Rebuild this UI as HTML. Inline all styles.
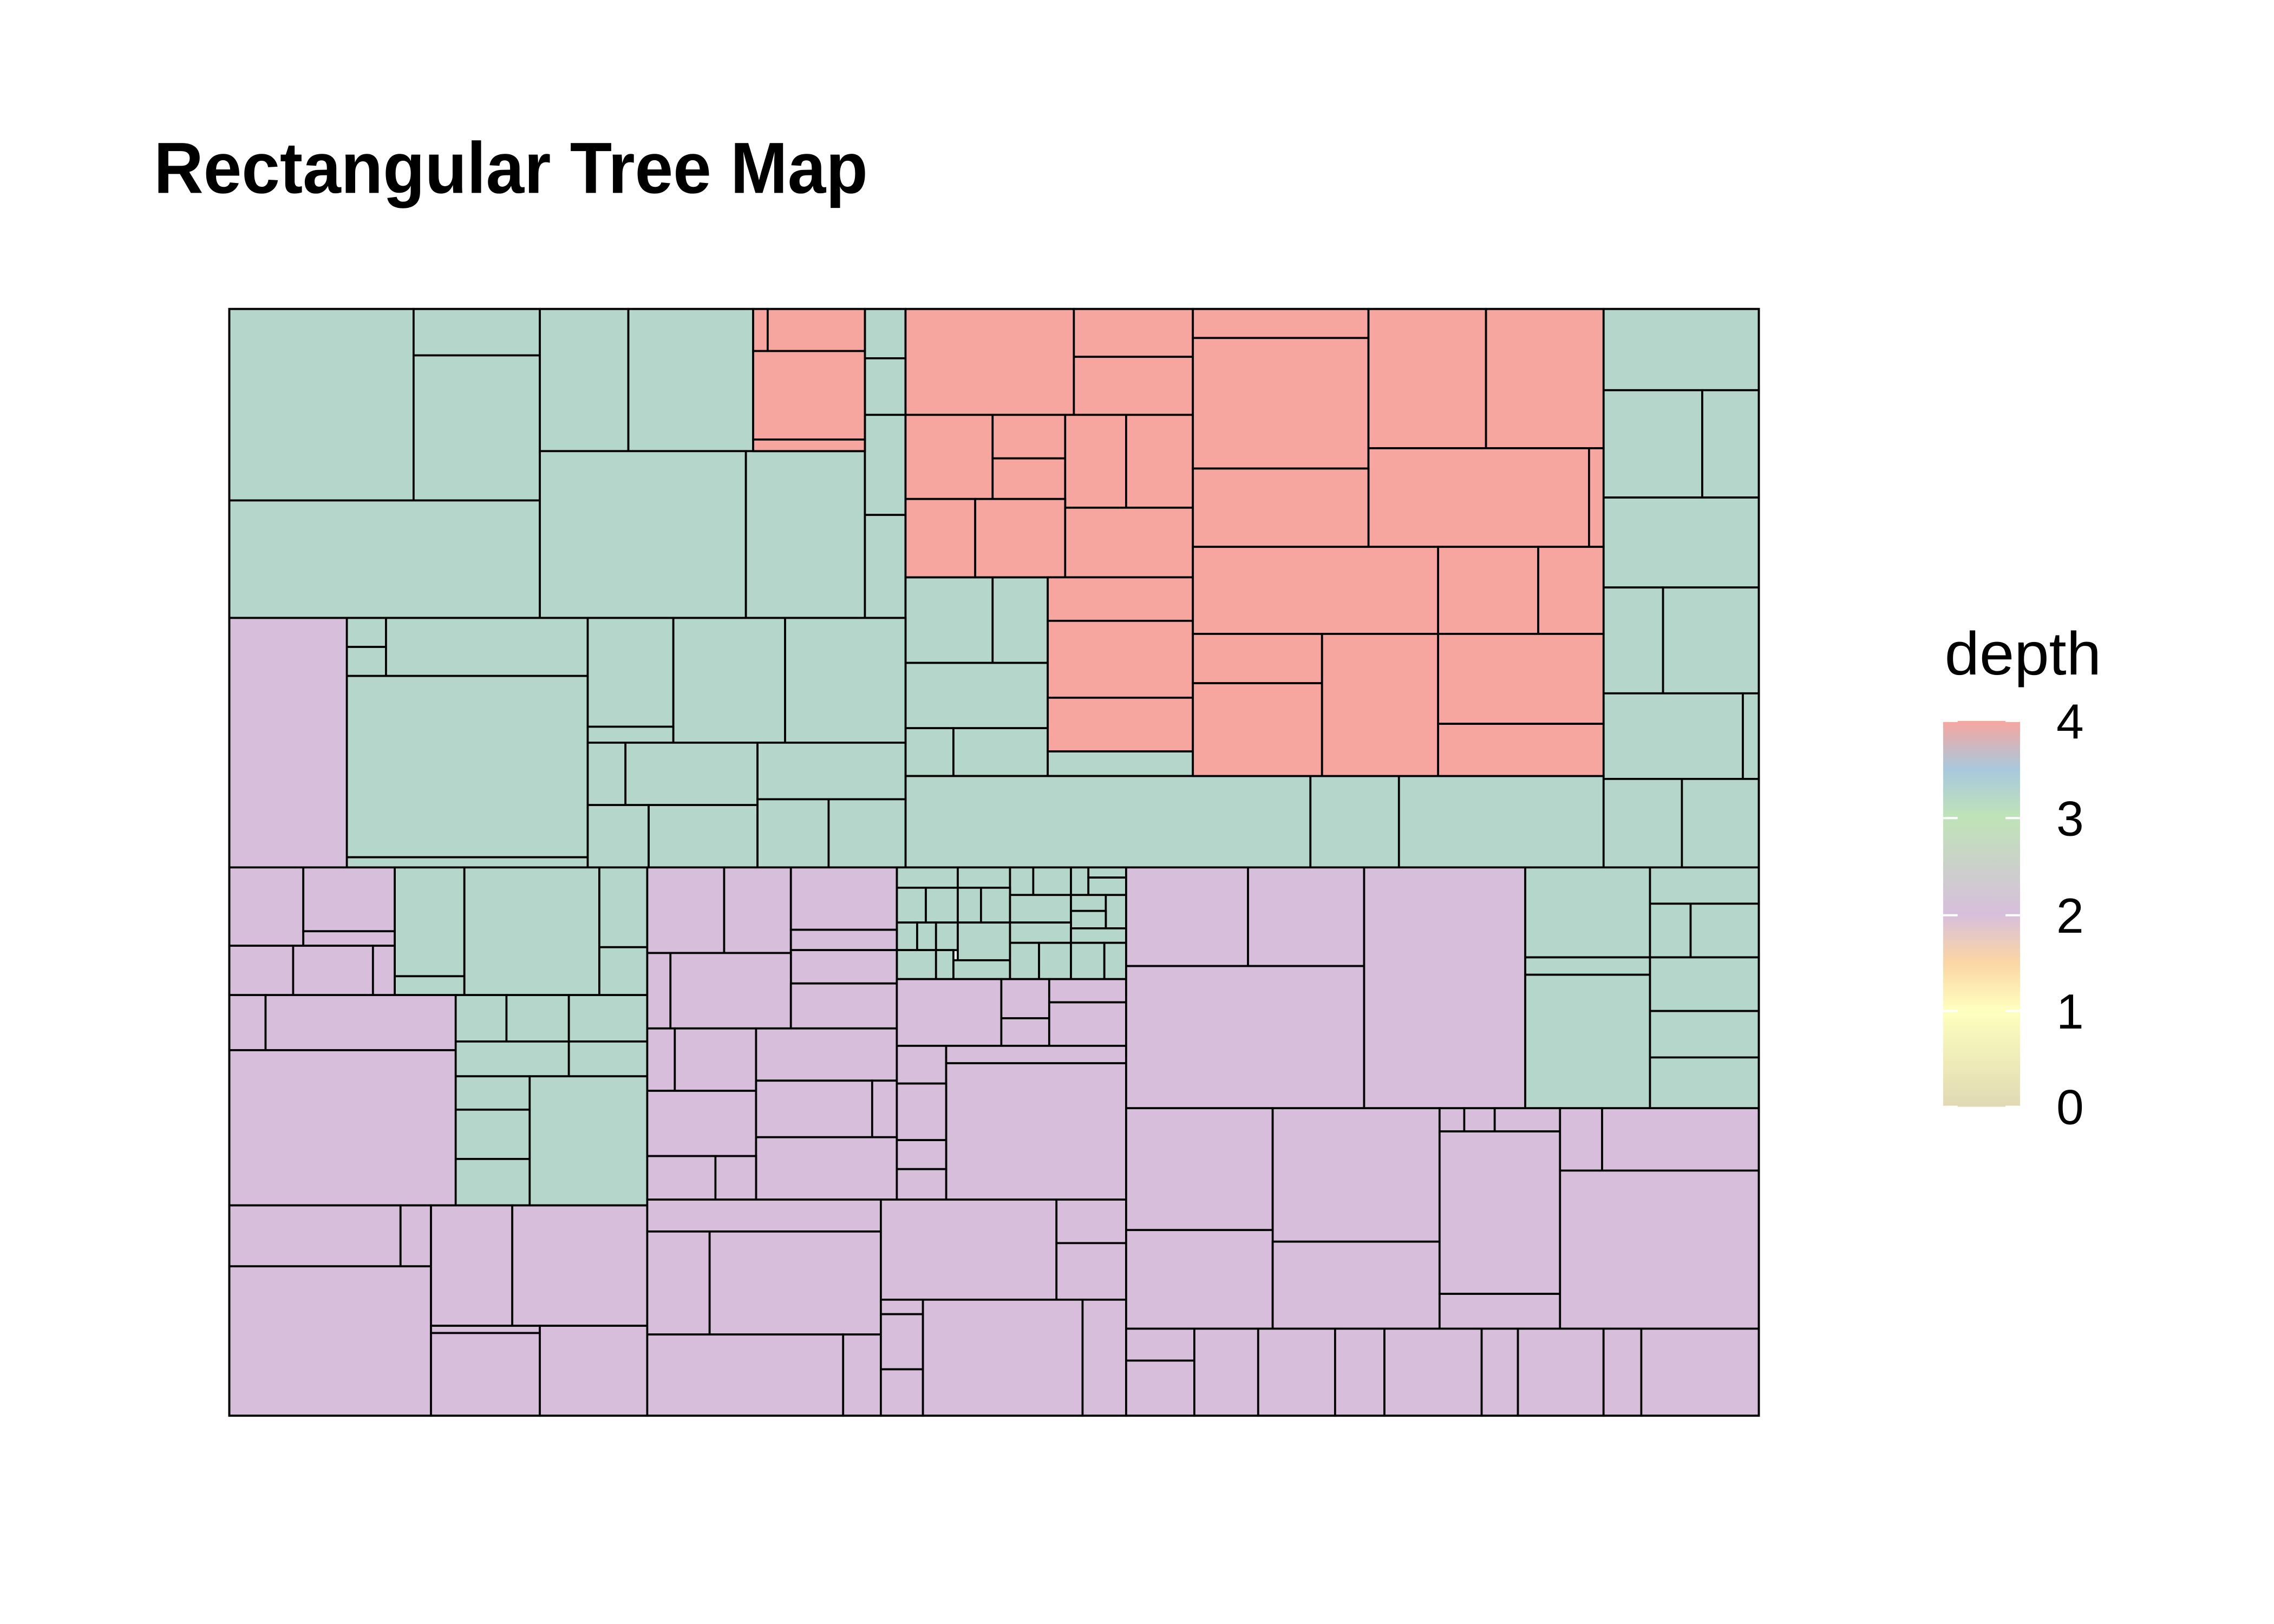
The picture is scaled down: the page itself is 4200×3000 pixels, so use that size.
<!DOCTYPE html>
<html><head><meta charset="utf-8"><style>
html,body{margin:0;padding:0;background:#fff;}
svg{display:block;}
</style></head><body>
<svg id="s" xmlns="http://www.w3.org/2000/svg" width="4200" height="3000" viewBox="0 0 1567 1119.6" preserveAspectRatio="none">
<defs>
<linearGradient id="g" x1="0" y1="0" x2="0" y2="1">
<stop offset="0" stop-color="#f7a59f"/>
<stop offset="0.125" stop-color="#a9c8dd"/>
<stop offset="0.25" stop-color="#bfe3b8"/>
<stop offset="0.5" stop-color="#d7bfdc"/>
<stop offset="0.625" stop-color="#fbd5a5"/>
<stop offset="0.75" stop-color="#feffbe"/>
<stop offset="1" stop-color="#e0d9b4"/>
</linearGradient>
</defs>
<rect width="1567" height="1120" fill="#fff"/>
<text x="106" y="133" font-family="Liberation Sans Narrow, Liberation Sans, sans-serif" font-weight="bold" font-size="50" textLength="492" lengthAdjust="spacingAndGlyphs">Rectangular Tree Map</text>
<g id="tm" stroke="#000" stroke-width="1.4"></g>
<text x="1340" y="465" font-family="Liberation Sans Narrow, Liberation Sans, sans-serif" font-size="42" textLength="108" lengthAdjust="spacingAndGlyphs">depth</text>
<rect x="1339" y="497" width="53" height="266" fill="url(#g)"/>
<g stroke="#fff" stroke-width="1.5">
<line x1="1339" y1="497" x2="1349" y2="497"/><line x1="1382" y1="497" x2="1392" y2="497"/>
<line x1="1339" y1="564" x2="1349" y2="564"/><line x1="1382" y1="564" x2="1392" y2="564"/>
<line x1="1339" y1="631" x2="1349" y2="631"/><line x1="1382" y1="631" x2="1392" y2="631"/>
<line x1="1339" y1="697" x2="1349" y2="697"/><line x1="1382" y1="697" x2="1392" y2="697"/>
<line x1="1339" y1="763" x2="1349" y2="763"/><line x1="1382" y1="763" x2="1392" y2="763"/>
</g>
<g font-family="Liberation Sans Narrow, Liberation Sans, sans-serif" font-size="34">
<text x="1417" y="509">4</text><text x="1417" y="576">3</text><text x="1417" y="643">2</text><text x="1417" y="709">1</text><text x="1417" y="775">0</text>
</g>
</svg>
<script>
var G="#b5d7cb",P="#f7a59f",U="#d7bfdc";
var d={};
d[G]=[[158,213,285,345],[285,213,372,245],[285,245,372,345],[158,345,372,426],[372,213,433,311],[433,213,519,311],[372,311,514,426],[514,311,596,426],[596,213,624,247],[596,247,624,286],[596,286,624,355],[596,355,624,426],
[624,398,684,457],[684,398,722,457],[624,457,722,502],[624,502,657,535],[657,502,722,535],[722,518,822,535],
[1105,213,1212,269],[1105,269,1173,343],[1173,269,1212,343],[1105,343,1212,405],[1105,405,1146,478],[1146,405,1212,478],[1105,478,1201,537],[1201,478,1212,537],[1105,537,1159,598],[1159,537,1212,598],
[624,535,903,598],[903,535,964,598],[964,535,1105,598],
[239,426,266,446],[239,446,266,466],[266,426,405,466],[239,466,405,591],[239,591,405,598],[405,426,464,501],[405,501,464,512],[464,426,541,512],[541,426,624,512],[405,512,431,555],[431,512,522,555],[522,512,624,551],[405,555,447,598],[447,555,522,598],[522,551,571,598],[571,551,624,598],
[272,598,320,673],[272,673,320,686],[320,598,413,686],[413,598,446,653],[413,653,446,686],
[314,686,349,718],[349,686,392,718],[392,686,446,718],[314,718,392,742],[392,718,446,742],[314,742,365,765],[314,765,365,799],[314,799,365,831],[365,742,446,831],
[618,598,660,612],[660,598,696,612],[696,598,712,617],[712,598,738,617],[738,598,750,617],[750,598,776,605],[750,605,776,617],
[618,612,638,636],[638,612,660,636],[660,612,676,636],[676,612,696,636],[696,617,738,636],[738,617,762,628],[762,617,776,640],[738,628,762,640],
[618,636,632,655],[632,636,645,655],[645,636,660,655],[660,636,696,662],[696,636,738,650],[738,640,776,650],
[618,655,645,675],[645,655,657,675],[657,662,696,675],[696,650,716,675],[716,650,738,675],[738,650,761,675],[761,650,776,675],
[1051,598,1137,660],[1051,660,1137,672],[1051,672,1137,764],[1137,598,1212,623],[1137,623,1165,660],[1165,623,1212,660],[1137,660,1212,697],[1137,697,1212,729],[1137,729,1212,764]];
d[P]=[[519,213,529,242],[529,213,596,242],[519,242,596,303],[519,303,596,311],
[624,213,740,286],[740,213,822,246],[740,246,822,286],[624,286,684,344],[684,286,734,316],[684,316,734,344],[734,286,776,350],[776,286,822,350],[624,344,672,398],[672,344,734,398],[734,350,822,398],[722,398,822,428],[722,428,822,481],[722,481,822,518],
[822,213,943,233],[822,233,943,323],[943,213,1024,309],[1024,213,1105,309],[943,309,1095,377],[1095,309,1105,377],[822,323,943,377],[822,377,991,437],[991,377,1060,437],[1060,377,1105,437],[822,437,911,471],[822,471,911,535],[911,437,991,535],[991,437,1105,499],[991,499,1105,535]];
d[U]=[[158,426,239,598],[158,598,209,652],[209,598,272,642],[209,642,272,652],[158,652,202,686],[202,652,257,686],[257,652,272,686],
[158,686,183,724],[183,686,314,724],[158,724,314,831],
[158,831,276,873],[276,831,297,873],[158,873,297,976],[297,831,353,914],[353,831,446,914],[297,914,372,919],[297,919,372,976],[372,914,446,976],
[446,598,499,657],[499,598,545,657],[545,598,618,641],[545,641,618,655],[545,655,618,678],[446,657,462,709],[462,657,545,709],[545,678,618,709],
[446,709,465,752],[465,709,521,752],[521,709,618,745],[446,752,521,797],[521,745,601,784],[601,745,618,784],[521,784,618,827],[446,797,493,827],[493,797,521,827],
[446,827,607,849],[446,849,489,920],[489,849,607,920],[446,920,581,976],[581,920,607,976],
[618,675,690,721],[690,675,723,702],[690,702,723,721],[723,675,776,691],[723,691,776,721],[618,721,652,747],[652,721,776,733],[652,733,776,827],[618,747,652,786],[618,786,652,806],[618,806,652,827],
[607,827,728,896],[728,827,776,857],[728,857,776,896],[607,896,636,906],[607,906,636,944],[607,944,636,976],[636,896,746,976],[746,896,776,976],
[776,598,860,666],[860,598,940,666],[776,666,940,764],[940,598,1051,764],
[776,764,877,848],[877,764,992,856],[776,848,877,916],[877,856,992,916],[992,764,1009,780],[1009,764,1030,780],[1030,764,1075,780],[992,780,1075,892],[992,892,1075,916],[1075,764,1104,807],[1104,764,1212,807],[1075,807,1212,916],
[776,916,823,938],[776,938,823,976],[823,916,867,976],[867,916,920,976],[920,916,954,976],[954,916,1021,976],[1021,916,1046,976],[1046,916,1105,976],[1105,916,1131,976],[1131,916,1212,976]];
var g=document.getElementById("tm"),h="";
for(var c in d){d[c].forEach(function(r){h+='<rect x="'+r[0]+'" y="'+r[1]+'" width="'+(r[2]-r[0])+'" height="'+(r[3]-r[1])+'" fill="'+c+'"/>';});}
h+='<rect x="158" y="213" width="1054" height="763" fill="none"/>';
g.innerHTML=h;
</script>
</body></html>
